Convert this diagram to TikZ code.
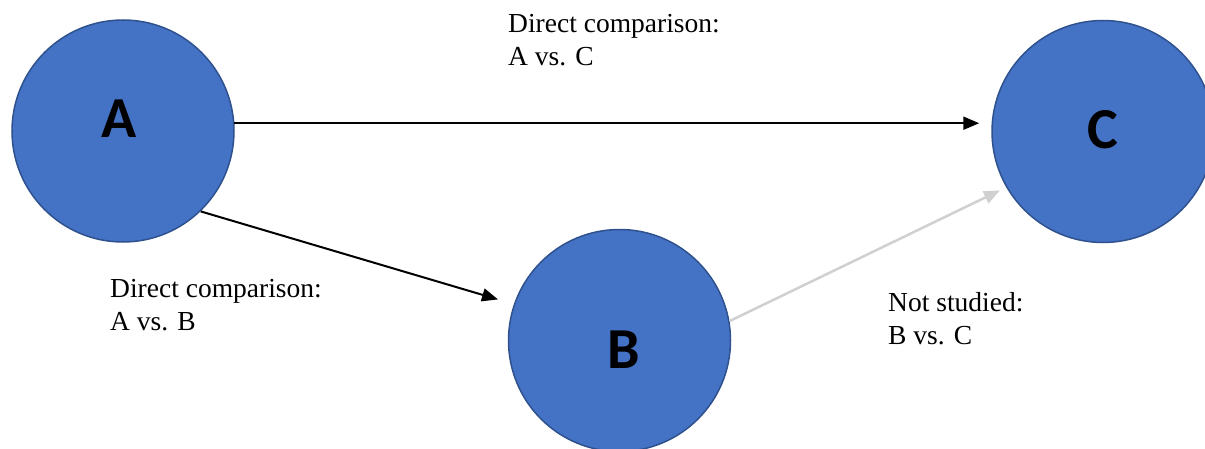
\documentclass[tikz,border=0pt]{standalone}
\usepackage{fontspec}
\setmainfont{Liberation Serif}
\newfontfamily\letterfont{Carlito}
\usetikzlibrary{arrows.meta}
\definecolor{nodefill}{HTML}{4472C4}
\definecolor{nodeline}{HTML}{2F528F}
\definecolor{faint}{RGB}{208,208,208}
\begin{document}
\begin{tikzpicture}[x=1pt,y=1pt,
  bubble/.style={circle, fill=nodefill, draw=nodeline, line width=1.5pt, minimum size=222pt, inner sep=0pt},
  letter/.style={font=\letterfont\bfseries\fontsize{58}{58}\selectfont, inner sep=0pt},
  caption/.style={font=\fontsize{27.5}{33}\selectfont, align=left, anchor=base west, inner sep=0pt},
  link/.style={line width=2pt, -{Triangle[length=16pt,width=13pt]}},
]
\useasboundingbox (0,0) rectangle (1205,448);
\node[bubble] (A) at (123,317) {};
\node[bubble] (C) at (1103,316.5) {};
\node[bubble] (B) at (619.5,107.5) {};
\node[letter] (Al) at (119,329) {A};
\node[letter] (Cl) at (1103,318) {C};
\node[letter] (Bl) at (624,98) {B};
\draw[link, shorten >=12pt] (A.4) -- (A.4 -| C.west);
\draw[link, shorten >=16.5pt] (A.-46) -- (B.161.5);
\draw[link, color=faint, line width=2.5pt, shorten >=7pt] (B.10) -- (C.-150);
\node[caption] (t1) at (508,382) {Direct comparison:\\A vs. C};
\node[caption] (t2) at (110,118) {Direct comparison:\\A vs. B};
\node[caption] (t3) at (888,104) {Not studied:\\B vs. C};
\end{tikzpicture}
\end{document}
